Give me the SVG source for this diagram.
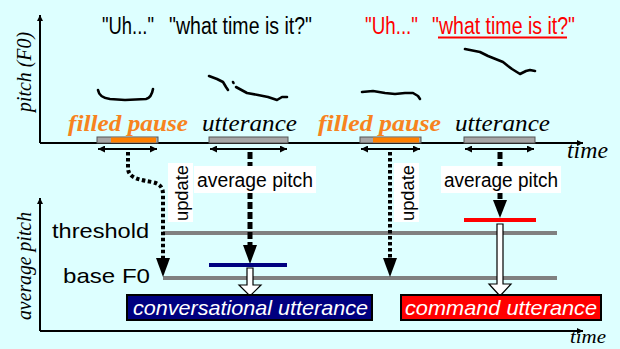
<svg xmlns="http://www.w3.org/2000/svg" width="620" height="349" viewBox="0 0 620 349">
<defs>
<style>
.sans{font-family:"Liberation Sans",Arial,sans-serif}
.serif{font-family:"Liberation Serif","Times New Roman",serif}
.axis{stroke:#000;stroke-width:2;fill:none}
.curve{stroke:#000;stroke-width:2.6;fill:none;stroke-linecap:round;stroke-linejoin:round}
.dots{stroke:#000;stroke-width:4;fill:none;stroke-dasharray:3.5 2.5}
.dash{stroke:#000;stroke-width:5;fill:none;stroke-dasharray:7 3}
.lvl{stroke:#808080;stroke-width:4}
.hollow{fill:#fff;stroke:#000;stroke-width:1.2}
.bar{fill:#a6a6a6;stroke:#555;stroke-width:1}
.orange{fill:#ff8000}
.dbl{stroke:#000;stroke-width:2;marker-start:url(#ah);marker-end:url(#ah)}
.lbl{fill:#fff}
.head{fill:#000}
</style>
<marker id="ah" viewBox="0 0 10 10" refX="10" refY="5" markerWidth="9" markerHeight="7" markerUnits="userSpaceOnUse" orient="auto-start-reverse">
<path d="M0,0 L10,5 L0,10 Z" fill="#000"/>
</marker>
<marker id="ax" viewBox="0 0 10 10" refX="10" refY="5" markerWidth="11" markerHeight="6" markerUnits="userSpaceOnUse" orient="auto">
<path d="M0,0 L10,5 L0,10 Z" fill="#000"/>
</marker>
</defs>
<rect width="620" height="349" fill="#ddffff"/>

<g id="axes">
<path class="axis" d="M40,143 L40,15" marker-end="url(#ax)"/>
<path class="axis" d="M40,143 L583,143" marker-end="url(#ax)"/>
<path class="axis" d="M40,331 L40,198" marker-end="url(#ax)"/>
<path class="axis" d="M40,331 L583,331" marker-end="url(#ax)"/>
<text class="serif" font-style="italic" font-size="24" x="567" y="158" textLength="41" lengthAdjust="spacingAndGlyphs">time</text>
<text class="serif" font-style="italic" font-size="19" x="570" y="343" textLength="36" lengthAdjust="spacingAndGlyphs">time</text>
<text class="serif" font-style="italic" font-size="20" transform="translate(31,112) rotate(-90)" textLength="80" lengthAdjust="spacingAndGlyphs">pitch (F0)</text>
<text class="serif" font-style="italic" font-size="20" transform="translate(31,320) rotate(-90)" textLength="108" lengthAdjust="spacingAndGlyphs">average pitch</text>
</g>

<g id="quotes">
<text class="sans" font-size="23" x="102" y="34" textLength="52" lengthAdjust="spacingAndGlyphs">"Uh..."</text>
<text class="sans" font-size="23" x="169" y="34" textLength="143" lengthAdjust="spacingAndGlyphs">"what time is it?"</text>
<text class="sans" font-size="23" x="365" y="34" textLength="53" lengthAdjust="spacingAndGlyphs" fill="#ff0000">"Uh..."</text>
<text class="sans" font-size="23" x="432" y="34" textLength="143" lengthAdjust="spacingAndGlyphs" fill="#ff0000">"what time is it?"</text>
<line x1="438" y1="37.5" x2="567" y2="37.5" stroke="#ff0000" stroke-width="2"/>
</g>

<g id="pitch-curves">
<path class="curve" d="M98,90 C99,96 103,98 110,99 L125,100 L146,99 C150,98 152,95 153,89"/>
<path class="curve" d="M209,76 L217,79 L223,82 L226,87 L228,90"/>
<path class="curve" d="M233,82 L233.5,83"/>
<path class="curve" d="M236,87 L247,93 L258,95 L268,97 L277,100 L282,97 L287,97"/>
<path class="curve" d="M362,92 L373,91 L385,93 L395,94 L405,93 L413,93 L418,96 L420,99"/>
<path class="curve" d="M465,49 L480,52 L488,56 L493,58 L503,62 L508,66 L512,69 L520,74 L526,71 L530,70 L535,71"/>
</g>

<g id="filled-pause-1">
<text class="serif" font-weight="bold" font-style="italic" font-size="24" x="68" y="131" textLength="120" lengthAdjust="spacingAndGlyphs" fill="#f7831e">filled pause</text>
<rect class="bar" x="97" y="137" width="61" height="6"/>
<rect class="orange" x="111" y="137.5" width="45" height="5"/>
<line class="dbl" x1="98" y1="149" x2="157" y2="149"/>
</g>
<g id="utterance-1">
<text class="serif" font-style="italic" font-size="24" x="202" y="131" textLength="95" lengthAdjust="spacingAndGlyphs">utterance</text>
<rect class="bar" x="209" y="137" width="79" height="6"/>
<line class="dbl" x1="210" y1="149" x2="287" y2="149"/>
</g>
<g id="filled-pause-2">
<text class="serif" font-weight="bold" font-style="italic" font-size="24" x="318" y="131" textLength="123" lengthAdjust="spacingAndGlyphs" fill="#f7831e">filled pause</text>
<rect class="bar" x="360" y="137" width="61" height="6"/>
<rect class="orange" x="373" y="137.5" width="46" height="5"/>
<line class="dbl" x1="361" y1="149" x2="420" y2="149"/>
</g>
<g id="utterance-2">
<text class="serif" font-style="italic" font-size="24" x="455" y="131" textLength="95" lengthAdjust="spacingAndGlyphs">utterance</text>
<rect class="bar" x="464" y="137" width="71" height="6"/>
<line class="dbl" x1="465" y1="149" x2="534" y2="149"/>
</g>

<g id="levels">
<line class="lvl" x1="163" y1="233" x2="557" y2="233"/>
<line class="lvl" x1="163" y1="278" x2="557" y2="278"/>
<text class="sans" font-size="21" x="52" y="238" textLength="97" lengthAdjust="spacingAndGlyphs">threshold</text>
<text class="sans" font-size="21" x="63" y="283" textLength="87" lengthAdjust="spacingAndGlyphs">base F0</text>
</g>

<g id="connectors">
<path class="dots" d="M128,152 L128,168 C128,178 140,180 152,182 C161,184 163,188 163,195 L163,258"/>
<polygon class="head" points="156,258 170,258 163,277"/>
<path class="dash" d="M250,152 L250,245"/>
<polygon class="head" points="243,245 257,245 250,264"/>
<path class="dots" d="M390,152 L390,258"/>
<polygon class="head" points="383,258 397,258 390,277"/>
<path class="dash" d="M500,152 L500,200"/>
<polygon class="head" points="493,200 507,200 500,218"/>
</g>

<g id="update-1">
<rect class="lbl" x="168" y="163" width="25" height="59"/>
<text class="sans" font-size="19" transform="translate(188,221) rotate(-90)" textLength="56" lengthAdjust="spacingAndGlyphs">update</text>
</g>
<g id="update-2">
<rect class="lbl" x="394" y="163" width="25" height="59"/>
<text class="sans" font-size="19" transform="translate(414,221) rotate(-90)" textLength="56" lengthAdjust="spacingAndGlyphs">update</text>
</g>
<g id="average-pitch-1">
<rect class="lbl" x="194" y="166" width="122" height="27"/>
<text class="sans" font-size="20" x="197" y="187" textLength="116" lengthAdjust="spacingAndGlyphs">average pitch</text>
</g>
<g id="average-pitch-2">
<rect class="lbl" x="441" y="166" width="120" height="27"/>
<text class="sans" font-size="20" x="444" y="187" textLength="114" lengthAdjust="spacingAndGlyphs">average pitch</text>
</g>

<g id="pitch-marks">
<line x1="209" y1="265" x2="287" y2="265" stroke="#000080" stroke-width="4"/>
<line x1="464" y1="220" x2="536" y2="220" stroke="#ff0000" stroke-width="4"/>
<path class="hollow" d="M247,268 L253,268 L253,285 L261,285 L250,296 L239,285 L247,285 Z"/>
<path class="hollow" d="M497,224 L503,224 L503,284 L511,284 L500,296 L489,284 L497,284 Z"/>
</g>

<g id="conversational-utterance">
<rect x="127" y="295" width="245" height="25" fill="#000080" stroke="#000" stroke-width="2"/>
<text class="sans" font-style="italic" font-size="21" x="133" y="315" textLength="235" lengthAdjust="spacingAndGlyphs" fill="#fff">conversational utterance</text>
</g>
<g id="command-utterance">
<rect x="401" y="295" width="200" height="25" fill="#ff0000" stroke="#000" stroke-width="2"/>
<text class="sans" font-style="italic" font-size="21" x="405" y="315" textLength="192" lengthAdjust="spacingAndGlyphs" fill="#fff">command utterance</text>
</g>
</svg>
